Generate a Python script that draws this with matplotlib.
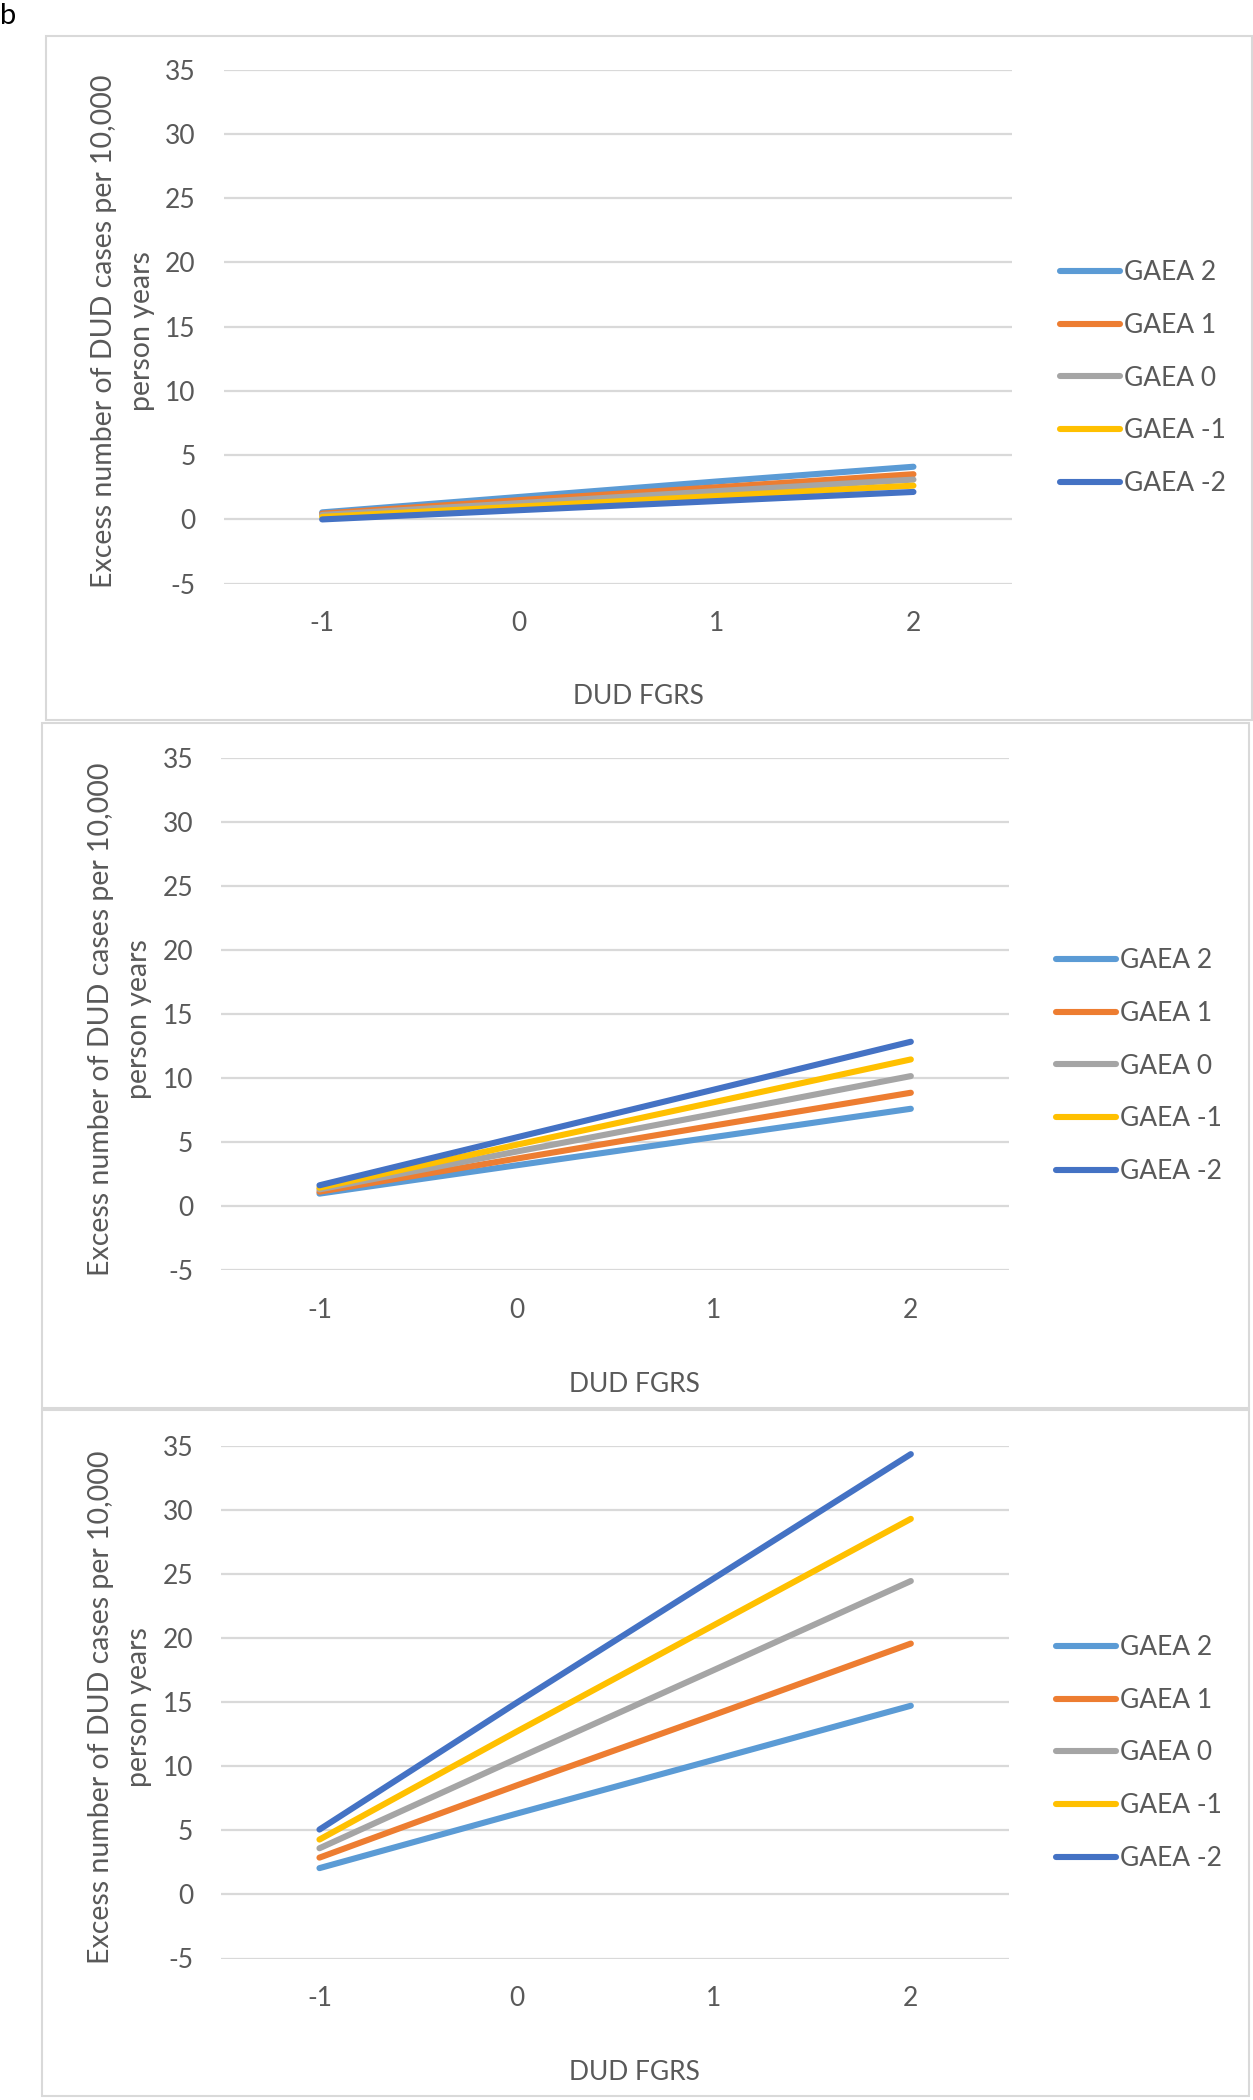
import matplotlib
matplotlib.use("Agg")
import matplotlib.pyplot as plt
from matplotlib.patches import Rectangle

plt.rcParams['font.family'] = ['Lato', 'DejaVu Sans']
plt.rcParams['axes.unicode_minus'] = False

W, H = 1253, 2100

categories = [-1, 0, 1, 2]
series_names = ["GAEA 2", "GAEA 1", "GAEA 0", "GAEA -1", "GAEA -2"]
colors = ["#5B9BD5", "#ED7D31", "#A5A5A5", "#FFC000", "#4472C4"]

panel1 = {
    "GAEA 2": [0.55, 1.75, 2.95, 4.1],
    "GAEA 1": [0.45, 1.5, 2.5, 3.52],
    "GAEA 0": [0.35, 1.27, 2.2, 3.1],
    "GAEA -1": [0.2, 1.0, 1.82, 2.63],
    "GAEA -2": [0.0, 0.72, 1.43, 2.14],
}
panel2 = {
    "GAEA 2": [0.99, 3.2, 5.4, 7.61],
    "GAEA 1": [1.14, 3.72, 6.3, 8.86],
    "GAEA 0": [1.32, 4.27, 7.2, 10.16],
    "GAEA -1": [1.45, 4.8, 8.12, 11.46],
    "GAEA -2": [1.64, 5.38, 9.1, 12.84],
}
panel3 = {
    "GAEA 2": [2.05, 6.3, 10.5, 14.72],
    "GAEA 1": [2.87, 8.5, 14.0, 19.57],
    "GAEA 0": [3.6, 10.58, 17.5, 24.45],
    "GAEA -1": [4.28, 12.7, 21.0, 29.3],
    "GAEA -2": [5.06, 14.95, 24.65, 34.35],
}
panels = [panel1, panel2, panel3]

yticks = [-5, 0, 5, 10, 15, 20, 25, 30, 35]
xlabel = "DUD FGRS"
ylabel = "Excess number of DUD cases per 10,000\nperson years"

TXT = "#595959"
GRID = "#D9D9D9"
FS = 19

fig = plt.figure(figsize=(W / 100, H / 100), dpi=100)


def frect(x0, y0, x1, y1):
    return [x0 / W, 1 - y1 / H, (x1 - x0) / W, (y1 - y0) / H]


# layout in pixels
boxes = [(45.5, 36, 1251.5, 720), (41.5, 723, 1249, 1408), (41.5, 1410, 1249, 2096)]
axes_px = [(223.6, 69.6, 1012, 583.7), (220.9, 757.7, 1009.4, 1270.4), (220.9, 1445.8, 1009.4, 1958.5)]
xlab_px = [(638.6, 697), (634.5, 1385), (634.5, 2073)]
ylab_px = [(123, 331), (120, 1019), (120, 1707)]
leg_px = [(1047, 378), (1043, 1066), (1043, 1753)]

for (bx0, by0, bx1, by1) in boxes:
    fig.patches.append(Rectangle((bx0 / W, 1 - by1 / H), (bx1 - bx0) / W, (by1 - by0) / H,
                                 transform=fig.transFigure, fill=False,
                                 edgecolor=GRID, linewidth=1.5))

for i, data in enumerate(panels):
    ax = fig.add_axes(frect(*axes_px[i]))
    for name, col in zip(series_names, colors):
        ax.plot(categories, data[name], color=col, lw=4.4, solid_capstyle='round',
                label=name, zorder=3)
    ax.set_xlim(-1.5, 2.5)
    ax.set_ylim(-5, 35)
    ax.set_yticks(yticks)
    ax.set_xticks(categories)
    ax.set_xticklabels([str(c) for c in categories])
    ax.yaxis.grid(True, color=GRID, lw=1.6)
    ax.set_axisbelow(True)
    for s in ax.spines.values():
        s.set_visible(False)
    ax.tick_params(axis='both', length=0, labelsize=FS, labelcolor=TXT)
    ax.tick_params(axis='y', pad=20)
    ax.tick_params(axis='x', pad=20)
    fig.text(xlab_px[i][0] / W, 1 - xlab_px[i][1] / H, xlabel, ha='center', va='center',
             fontsize=FS, color=TXT)
    fig.text(ylab_px[i][0] / W, 1 - ylab_px[i][1] / H, ylabel, ha='center', va='center',
             rotation=90, fontsize=20.5, color=TXT, multialignment='center', linespacing=1.53)
    leg = ax.legend(loc='center left', bbox_to_anchor=(leg_px[i][0] / W, 1 - leg_px[i][1] / H),
                    bbox_transform=fig.transFigure, frameon=False, fontsize=FS,
                    labelcolor=TXT, handlelength=2.25, handletextpad=0.15,
                    labelspacing=1.05, borderpad=0)

fig.text(0 / W, 1 - 16 / H, "b", ha='left', va='center', fontsize=FS + 2, color='black')

fig.savefig("out.png", dpi=100)
